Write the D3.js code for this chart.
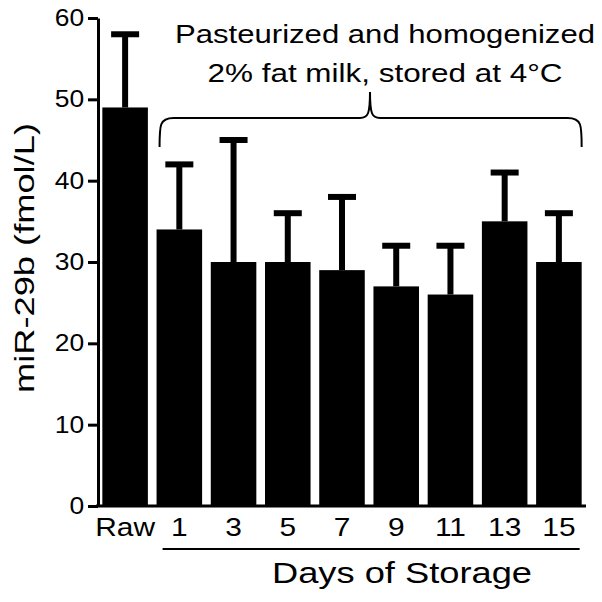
<!DOCTYPE html>
<html>
<head>
<meta charset="utf-8">
<script src="https://cdn.jsdelivr.net/npm/d3@7"></script>
<style>
  body { margin: 0; background: #fff; }
  text { font-family: "Liberation Sans", Arial, sans-serif; fill: #000; }
</style>
</head>
<body>
<div id="chart"></div>
<script>
// data
const categories = ['Raw', '1', '3', '5', '7', '9', '11', '13', '15'];
const means = [49, 34, 30, 30, 29, 27, 26, 35, 30];
const upper = [58, 42, 45, 36, 38, 32, 32, 41, 36];
const yTicks = [0, 10, 20, 30, 40, 50, 60];

const width = 602, height = 602;
const stretch = 1.15; // the original font is a bit wider than Liberation Sans

const svg = d3.select('#chart').append('svg')
  .attr('width', width)
  .attr('height', height);

const x = d3.scaleBand()
  .domain(categories)
  .range([98, 586])
  .paddingInner(0.16)
  .paddingOuter(0.08);

const y = d3.scaleLinear()
  .domain([0, 60])
  .range([506, 18]);

// bars
svg.append('g').selectAll('rect')
  .data(means)
  .join('rect')
  .attr('x', (d, i) => x(categories[i]))
  .attr('y', d => y(d))
  .attr('width', x.bandwidth())
  .attr('height', d => y(0) - y(d))
  .attr('fill', '#000');

// error bars (upper only)
const eb = svg.append('g').attr('stroke', '#000').attr('stroke-width', 6);
categories.forEach((c, i) => {
  const cx = x(c) + x.bandwidth() / 2;
  eb.append('line')
    .attr('x1', cx).attr('x2', cx)
    .attr('y1', y(means[i])).attr('y2', y(upper[i]));
  eb.append('line')
    .attr('x1', cx - 14).attr('x2', cx + 14)
    .attr('y1', y(upper[i])).attr('y2', y(upper[i]));
});

// y axis
const yAxis = svg.append('g')
  .attr('transform', 'translate(98,0)')
  .call(d3.axisLeft(y).tickValues(yTicks).tickSize(10).tickSizeOuter(0));
yAxis.selectAll('path, line').attr('stroke', '#000').attr('stroke-width', 3);
yAxis.selectAll('text')
  .style('font-size', '23px')
  .attr('x', -12)
  .attr('transform', 'scale(' + stretch + ',1)');

// x baseline
svg.append('line')
  .attr('x1', 96).attr('x2', 586)
  .attr('y1', y(0)).attr('y2', y(0))
  .attr('stroke', '#000').attr('stroke-width', 3);

// x labels
svg.append('g').selectAll('text')
  .data(categories)
  .join('text')
  .attr('transform', d => 'translate(' + (x(d) + x.bandwidth() / 2) + ',536) scale(' + stretch + ',1)')
  .attr('text-anchor', 'middle')
  .style('font-size', '26px')
  .text(d => d);

// underline for storage days
const dStart = x('1') + 6, dEnd = x('15') + x.bandwidth() - 2;
svg.append('line')
  .attr('x1', dStart).attr('x2', dEnd)
  .attr('y1', 549).attr('y2', 549)
  .attr('stroke', '#000').attr('stroke-width', 2);

svg.append('text')
  .attr('x', 402).attr('y', 583)
  .attr('text-anchor', 'middle')
  .attr('textLength', 260)
  .attr('lengthAdjust', 'spacingAndGlyphs')
  .style('font-size', '30px')
  .text('Days of Storage');

// y label
svg.append('text')
  .attr('transform', 'translate(34,258) rotate(-90)')
  .attr('text-anchor', 'middle')
  .attr('textLength', 270)
  .attr('lengthAdjust', 'spacingAndGlyphs')
  .style('font-size', '27px')
  .text('miR-29b (fmol/L)');

// brace over days 1-15
const bL = x('1') + 3, bR = x('15') + x.bandwidth();
const bMid = 370, bY = 118;
svg.append('path')
  .attr('d', 'M' + bL + ',147 C' + bL + ',125 ' + bL + ',' + bY + ' ' + (bL + 14) + ',' + bY +
        ' L' + (bMid - 10) + ',' + bY + ' C' + (bMid - 2) + ',' + bY + ' ' + bMid + ',' + (bY - 4) + ' ' + bMid + ',' + (bY - 26) +
        ' C' + bMid + ',' + (bY - 4) + ' ' + (bMid + 2) + ',' + bY + ' ' + (bMid + 10) + ',' + bY +
        ' L' + (bR - 14) + ',' + bY + ' C' + bR + ',' + bY + ' ' + bR + ',125 ' + bR + ',147')
  .attr('fill', 'none')
  .attr('stroke', '#000')
  .attr('stroke-width', 2);

svg.append('text')
  .attr('x', 385).attr('y', 43)
  .attr('text-anchor', 'middle')
  .attr('textLength', 420)
  .attr('lengthAdjust', 'spacingAndGlyphs')
  .style('font-size', '26px')
  .text('Pasteurized and homogenized');
svg.append('text')
  .attr('x', 385).attr('y', 82)
  .attr('text-anchor', 'middle')
  .attr('textLength', 355)
  .attr('lengthAdjust', 'spacingAndGlyphs')
  .style('font-size', '26px')
  .text('2% fat milk, stored at 4°C');
</script>
</body>
</html>
